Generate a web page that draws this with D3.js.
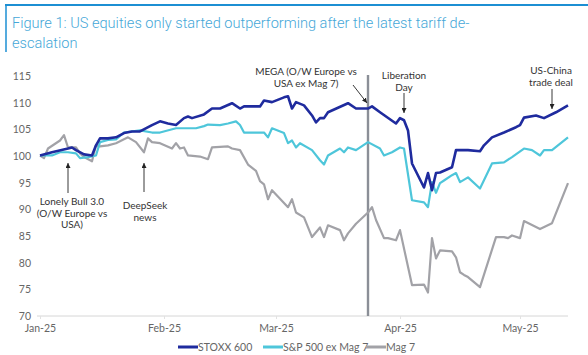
<!DOCTYPE html>
<html><head><meta charset="utf-8">
<script src="https://cdn.jsdelivr.net/npm/d3@7"></script>
<style>
html,body{margin:0;padding:0;background:#fff;}
svg{display:block;}
</style></head>
<body>
<script>
const titleLines = ["Figure 1: US equities only started outperforming after the latest tariff de-", "escalation"];
const yTicks = [70,75,80,85,90,95,100,105,110,115];
const xTickDates = ["2025-01-01","2025-02-01","2025-03-01","2025-04-01","2025-05-01"];
const xTickLabels = ["Jan-25","Feb-25","Mar-25","Apr-25","May-25"];
const seriesNames = ["STOXX 600","S&P 500 ex Mag 7","Mag 7"];
const markerDate = "2025-03-24";

const stoxx = [
["2025-01-01",100.1],["2025-01-04",100.7],["2025-01-08",101.4],["2025-01-09",101.6],["2025-01-10",101.1],["2025-01-12",100.3],["2025-01-14",100.1],["2025-01-15",102.0],["2025-01-16",103.3],["2025-01-18",103.3],["2025-01-20",103.5],["2025-01-22",104.3],["2025-01-24",104.6],["2025-01-26",104.6],["2025-01-29",105.8],["2025-01-31",106.5],["2025-02-02",106.1],["2025-02-04",105.8],["2025-02-06",107.1],["2025-02-07",107.4],["2025-02-08",107.1],["2025-02-11",107.8],["2025-02-13",108.9],["2025-02-15",108.9],["2025-02-18",109.9],["2025-02-20",108.9],["2025-02-21",109.3],["2025-02-25",109.3],["2025-02-26",110.4],["2025-02-28",110.1],["2025-03-03",111.0],["2025-03-04",111.2],["2025-03-05",108.9],["2025-03-06",110.1],["2025-03-08",109.5],["2025-03-10",107.6],["2025-03-11",106.3],["2025-03-12",107.1],["2025-03-13",107.1],["2025-03-14",108.2],["2025-03-19",109.9],["2025-03-21",108.9],["2025-03-24",108.9],["2025-03-25",109.3],["2025-03-27",108.2],["2025-03-31",106.1],["2025-04-01",107.1],["2025-04-02",106.7],["2025-04-03",104.8],["2025-04-04",98.6],["2025-04-07",94.1],["2025-04-08",96.8],["2025-04-09",93.6],["2025-04-10",96.8],["2025-04-11",96.9],["2025-04-14",97.9],["2025-04-15",101.1],["2025-04-18",101.1],["2025-04-21",100.9],["2025-04-22",102.0],["2025-04-24",103.5],["2025-04-27",104.4],["2025-04-30",105.4],["2025-05-01",105.8],["2025-05-02",107.2],["2025-05-05",107.6],["2025-05-07",107.1],["2025-05-10",108.2],["2025-05-13",109.5]
];
const spxExMag7 = [
["2025-01-01",100.1],["2025-01-04",100.1],["2025-01-06",100.7],["2025-01-08",100.7],["2025-01-10",100.5],["2025-01-11",99.6],["2025-01-13",99.8],["2025-01-15",100.1],["2025-01-16",102.6],["2025-01-18",103.0],["2025-01-20",103.1],["2025-01-22",104.4],["2025-01-26",104.8],["2025-01-29",104.4],["2025-01-31",104.4],["2025-02-04",105.2],["2025-02-06",105.2],["2025-02-09",105.2],["2025-02-11",105.6],["2025-02-12",105.9],["2025-02-15",105.8],["2025-02-17",106.1],["2025-02-19",106.5],["2025-02-20",105.8],["2025-02-21",104.4],["2025-02-26",104.4],["2025-02-27",103.5],["2025-02-28",105.2],["2025-03-03",104.3],["2025-03-04",102.4],["2025-03-05",102.9],["2025-03-06",101.6],["2025-03-07",102.4],["2025-03-10",101.1],["2025-03-12",99.2],["2025-03-13",98.4],["2025-03-14",100.1],["2025-03-17",101.4],["2025-03-18",100.7],["2025-03-19",101.6],["2025-03-21",101.1],["2025-03-24",102.6],["2025-03-27",101.4],["2025-03-28",100.1],["2025-03-30",100.7],["2025-04-01",101.6],["2025-04-02",101.4],["2025-04-04",91.7],["2025-04-07",91.3],["2025-04-08",90.4],["2025-04-09",95.1],["2025-04-10",93.1],["2025-04-11",94.9],["2025-04-12",95.4],["2025-04-14",96.4],["2025-04-15",96.8],["2025-04-16",95.1],["2025-04-18",96.0],["2025-04-21",93.9],["2025-04-24",98.6],["2025-04-27",98.8],["2025-04-29",99.8],["2025-05-02",101.4],["2025-05-04",101.1],["2025-05-06",100.1],["2025-05-07",101.1],["2025-05-09",101.1],["2025-05-13",103.5]
];
const mag7 = [
["2025-01-01",100.1],["2025-01-02",99.6],["2025-01-03",101.4],["2025-01-06",102.9],["2025-01-07",103.9],["2025-01-08",101.6],["2025-01-10",101.6],["2025-01-11",100.5],["2025-01-12",99.8],["2025-01-14",99.0],["2025-01-15",102.0],["2025-01-16",101.8],["2025-01-18",102.0],["2025-01-20",102.4],["2025-01-23",103.5],["2025-01-25",102.6],["2025-01-27",100.7],["2025-01-28",103.3],["2025-01-29",102.6],["2025-01-31",102.4],["2025-02-03",101.4],["2025-02-04",102.4],["2025-02-05",101.4],["2025-02-06",101.6],["2025-02-07",100.1],["2025-02-10",99.9],["2025-02-12",99.4],["2025-02-13",101.6],["2025-02-17",101.8],["2025-02-18",101.4],["2025-02-20",101.1],["2025-02-22",98.4],["2025-02-24",97.2],["2025-02-25",95.3],["2025-02-26",94.7],["2025-02-27",91.9],["2025-02-28",93.6],["2025-03-04",90.4],["2025-03-05",91.9],["2025-03-06",89.4],["2025-03-08",88.5],["2025-03-10",84.8],["2025-03-12",86.6],["2025-03-13",84.8],["2025-03-14",87.0],["2025-03-17",86.1],["2025-03-18",84.2],["2025-03-19",85.5],["2025-03-21",87.3],["2025-03-24",89.4],["2025-03-25",90.4],["2025-03-26",88.0],["2025-03-28",84.6],["2025-03-29",84.6],["2025-03-31",84.2],["2025-04-01",86.1],["2025-04-04",75.8],["2025-04-07",75.9],["2025-04-08",74.4],["2025-04-09",84.6],["2025-04-10",80.8],["2025-04-11",82.3],["2025-04-14",82.1],["2025-04-15",81.0],["2025-04-16",78.2],["2025-04-17",77.7],["2025-04-18",77.3],["2025-04-21",75.4],["2025-04-25",84.8],["2025-04-27",84.8],["2025-04-28",84.6],["2025-04-29",85.1],["2025-05-01",84.6],["2025-05-02",87.8],["2025-05-06",86.3],["2025-05-09",87.4],["2025-05-13",94.9]
];

const annotationTexts = [
  {lines:["Lonely Bull 3.0","(O/W Europe vs","USA)"], date:"2025-01-08"},
  {lines:["DeepSeek","news"], date:"2025-01-27"},
  {lines:["MEGA (O/W Europe vs","USA ex Mag 7)"], date:"2025-03-23"},
  {lines:["Liberation","Day"], date:"2025-04-02"},
  {lines:["US-China","trade deal"], date:"2025-05-09"}
];

const W = 588, H = 355;
const parse = d3.timeParse("%Y-%m-%d");
const colors = ["#1f2b9e", "#4ec6da", "#a2a2a7"];
const widths = [2.6, 2.2, 2.2];

const svg = d3.select("body").append("svg").attr("width", W).attr("height", H);

// frame
svg.append("line").attr("x1",5).attr("x2",W).attr("y1",5).attr("y2",5).attr("stroke","#1c8fd3").attr("stroke-width",2);
svg.append("line").attr("x1",6).attr("x2",6).attr("y1",4).attr("y2",52).attr("stroke","#1c8fd3").attr("stroke-width",1.5);

// title
const title = svg.append("text").attr("font-family","Roboto, sans-serif").attr("font-weight",300).attr("fill","#45a7d8").attr("font-size",15);
titleLines.forEach((t,i)=>{
  title.append("tspan").attr("x",12).attr("y",28 + i*19.5).text(t);
});
const firstLen = title.select("tspan").node().getComputedTextLength();
title.attr("font-size", 15 * 458 / firstLen);

const x = d3.scaleTime().domain([parse("2025-01-01"), parse("2025-05-13")]).range([40, 568]);
const y = d3.scaleLinear().domain([70,115]).range([316, 76]);

// x axis
const xAxis = d3.axisBottom(x).tickValues(xTickDates.map(parse)).tickFormat((d,i)=>xTickLabels[i]).tickSize(3).tickPadding(6);
const gx = svg.append("g").attr("transform","translate(0,316)").call(xAxis);
gx.select(".domain").attr("d","M37,0H568").attr("stroke","#d6d6d6");
gx.selectAll(".tick line").attr("stroke","#e2e2e2");
gx.selectAll(".tick text").attr("font-family","Lato, sans-serif").attr("font-size",10.5).attr("fill","#666");

// y axis
const yAxis = d3.axisLeft(y).tickValues(yTicks).tickSize(0).tickPadding(0);
const gy = svg.append("g").attr("transform","translate(31,0)").call(yAxis);
gy.select(".domain").remove();
gy.selectAll(".tick text").attr("font-family","Lato, sans-serif").attr("font-size",10.5).attr("fill","#666");

// vertical marker line
svg.append("line").attr("x1",x(parse(markerDate))).attr("x2",x(parse(markerDate)))
  .attr("y1",75).attr("y2",316).attr("stroke","#8b8f97").attr("stroke-width",2.4);

// lines
const line = d3.line().x(d=>x(parse(d[0]))).y(d=>y(d[1])).curve(d3.curveLinear);
[mag7, spxExMag7, stoxx].forEach((s, k)=>{
  const idx = 2 - k;
  svg.append("path").datum(s).attr("d", line).attr("fill","none")
    .attr("stroke", colors[idx]).attr("stroke-width", widths[idx]).attr("stroke-linejoin","round");
});

// arrow marker
svg.append("defs").append("marker").attr("id","ah").attr("viewBox","0 0 10 10").attr("refX",10).attr("refY",5)
  .attr("markerWidth",5).attr("markerHeight",5).attr("orient","auto-start-reverse").attr("markerUnits","userSpaceOnUse")
  .append("path").attr("d","M0,0L10,5L0,10z").attr("fill","#222");

// annotations
const annLayout = [
  {dx:4, ty:205, arrow:[0,193,0,163]},
  {dx:1, ty:209, arrow:[0,192,0,163]},
  {dx:-58, ty:75, arrow:[-11,85,3,103]},
  {dx:0, ty:79, arrow:[0,93,0,113]},
  {dx:-1, ty:74, arrow:[0,89,0,109]}
];
annotationTexts.forEach((a,i)=>{
  const L = annLayout[i];
  const ax = x(parse(a.date));
  const t = svg.append("text").attr("font-family","Lato, sans-serif").attr("font-size",10).attr("fill","#333").attr("text-anchor","middle");
  a.lines.forEach((ln,j)=>{
    t.append("tspan").attr("x", ax + L.dx).attr("y", L.ty + j*11.5).text(ln);
  });
  svg.append("line").attr("x1", ax + L.arrow[0]).attr("y1", L.arrow[1]).attr("x2", ax + L.arrow[2]).attr("y2", L.arrow[3])
    .attr("stroke","#222").attr("stroke-width",0.9).attr("marker-end","url(#ah)");
});

// legend
const legX = [178, 263, 366];
seriesNames.forEach((n,i)=>{
  svg.append("line").attr("x1",legX[i]).attr("x2",legX[i]+20).attr("y1",347).attr("y2",347)
    .attr("stroke",colors[i]).attr("stroke-width",3);
  svg.append("text").attr("x",legX[i]+20).attr("y",351).attr("font-family","Lato, sans-serif").attr("font-size",10.5).attr("fill","#666").text(n);
});
</script>
</body></html>
